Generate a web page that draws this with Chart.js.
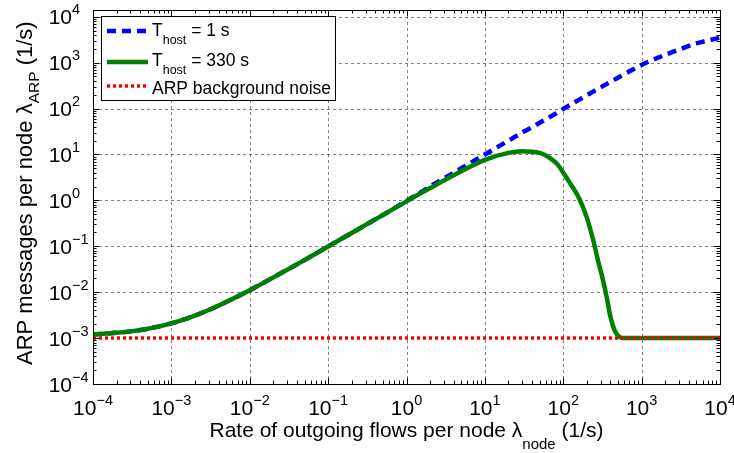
<!DOCTYPE html>
<html lang="en">
<head>
<meta charset="UTF-8" />
<title>ARP messages per node</title>
<script src="https://cdn.jsdelivr.net/npm/chart.js"></script>
<style>
  html, body { margin: 0; padding: 0; background: #fff; }
  #wrap { width: 734px; height: 453px; }
</style>
</head>
<body>
<div id="wrap"><canvas id="arp" width="734" height="453"></canvas></div>
<script>
// rate of outgoing flows per node, lambda_node (1/s)
const flowRate = [1e-4, 2e-4, 3e-4, 5e-4, 7e-4, 1e-3, 1.5e-3, 2e-3, 3e-3, 5e-3, 0.01, 0.02, 0.05, 0.1, 0.2, 0.5,
  1, 2, 5, 10, 20, 30, 40, 50, 60, 70, 85, 100, 130, 160, 200, 240, 280, 320, 360,
  400, 450, 525, 600, 1000, 2000, 3000, 5000, 10000];
// ARP messages per node, T_host = 1 s
const arpShortHost = [0.0012, 0.0013, 0.0014, 0.0016, 0.0018, 0.0021, 0.0026, 0.0031, 0.0041, 0.0061, 0.011, 0.021, 0.05, 0.099, 0.195, 0.48,
  0.97, 2, 5, 10, 20, 30, 39, 49, 58, 68, 82, 98, 127, 156, 195, 233, 271, 308, 345,
  381, 426, 493, 558, 890, 1480, 1920, 2620, 3500];
// ARP messages per node, T_host = 330 s
const arpLongHost = [0.0012, 0.0013, 0.0014, 0.0016, 0.0018, 0.0021, 0.0026, 0.0031, 0.0041, 0.0061, 0.011, 0.021, 0.05, 0.099, 0.195, 0.48,
  0.95, 1.85, 4.3, 7.6, 10.8, 11.7, 11.5, 10.8, 9.5, 8, 6, 4, 2, 1.1, 0.42, 0.14, 0.046, 0.019, 0.0075,
  0.0029, 0.0015, 0.00105, 0.001, 0.001, 0.001, 0.001, 0.001, 0.001];
// background noise
const noiseRate = [1e-4, 1e4];
const noiseLevel = [0.001, 0.001];

const xTickExp = [-4, -3, -2, -1, 0, 1, 2, 3, 4];
const yTickExp = [-4, -3, -2, -1, 0, 1, 2, 3, 4];

// [text, 0 normal | 1 subscript]
const legendLabels = [
  [["T", 0], ["host", 1], [" = 1 s", 0]],
  [["T", 0], ["host", 1], [" = 330 s", 0]],
  [["ARP background noise", 0]]
];
const xTitle = [["Rate of outgoing flows per node \u03bb", 0], ["node", 1], [" (1/s)", 0]];
const yTitle = [["ARP messages per node \u03bb", 0], ["ARP", 1], [" (1/s)", 0]];

const FONT = "'Liberation Sans', Arial, Helvetica, sans-serif";

function pts(xs, ys) {
  return xs.map((x, i) => ({ x: x, y: ys[i] }));
}

function richWidth(ctx, parts, size, small) {
  let w = 0;
  parts.forEach(([t, k]) => {
    ctx.font = (k ? small : size) + "px " + FONT;
    w += ctx.measureText(t).width;
  });
  return w;
}

function richText(ctx, parts, x, y, size, small, drop) {
  let cx = x;
  ctx.textAlign = "left";
  ctx.textBaseline = "alphabetic";
  parts.forEach(([t, k]) => {
    ctx.font = (k ? small : size) + "px " + FONT;
    ctx.fillText(t, cx, k ? y + drop : y);
    cx += ctx.measureText(t).width;
  });
}

function supText(e) {
  return e < 0 ? "\u2212" + (-e) : String(e);
}

const axisDecor = {
  id: "axisDecor",
  beforeDatasetsDraw(chart) {
    const ctx = chart.ctx, a = chart.chartArea;
    const xs = chart.scales.x, ys = chart.scales.y;
    ctx.save();
    ctx.strokeStyle = "rgba(0,0,0,0.5)";
    ctx.lineWidth = 1;
    ctx.setLineDash([3, 3]);
    xTickExp.forEach(e => {
      const px = Math.round(xs.getPixelForValue(Math.pow(10, e))) + 0.5;
      ctx.beginPath(); ctx.moveTo(px, a.top); ctx.lineTo(px, a.bottom); ctx.stroke();
    });
    yTickExp.forEach(e => {
      const py = Math.round(ys.getPixelForValue(Math.pow(10, e))) + 0.5;
      ctx.beginPath(); ctx.moveTo(a.left, py); ctx.lineTo(a.right, py); ctx.stroke();
    });
    ctx.restore();
  },
  afterDatasetsDraw(chart) {
    const ctx = chart.ctx, a = chart.chartArea;
    const xs = chart.scales.x, ys = chart.scales.y;
    ctx.save();
    // frame and inward ticks
    ctx.strokeStyle = "#000";
    ctx.lineWidth = 1;
    ctx.setLineDash([]);
    ctx.strokeRect(Math.round(a.left) + 0.5, Math.round(a.top) + 0.5,
      Math.round(a.right - a.left), Math.round(a.bottom - a.top));
    ctx.beginPath();
    xTickExp.forEach(e => {
      for (let m = 1; m <= 9; m++) {
        const v = m * Math.pow(10, e);
        if (v < xs.min || v > xs.max) continue;
        const px = Math.round(xs.getPixelForValue(v)) + 0.5;
        const len = m === 1 ? 6 : 3.5;
        ctx.moveTo(px, a.bottom); ctx.lineTo(px, a.bottom - len);
        ctx.moveTo(px, a.top); ctx.lineTo(px, a.top + len);
      }
    });
    yTickExp.forEach(e => {
      for (let m = 1; m <= 9; m++) {
        const v = m * Math.pow(10, e);
        if (v < ys.min || v > ys.max) continue;
        const py = Math.round(ys.getPixelForValue(v)) + 0.5;
        const len = m === 1 ? 6 : 3.5;
        ctx.moveTo(a.left, py); ctx.lineTo(a.left + len, py);
        ctx.moveTo(a.right, py); ctx.lineTo(a.right - len, py);
      }
    });
    ctx.stroke();

    // tick labels 10^e
    ctx.fillStyle = "#000";
    ctx.textBaseline = "alphabetic";
    xTickExp.forEach(e => {
      const px = xs.getPixelForValue(Math.pow(10, e));
      ctx.font = "21px " + FONT;
      const wb = ctx.measureText("10").width;
      ctx.font = "14.5px " + FONT;
      const ws = ctx.measureText(supText(e)).width;
      const left = px - (wb + ws) / 2;
      ctx.textAlign = "left";
      ctx.font = "21px " + FONT;
      ctx.fillText("10", left, a.bottom + 31);
      ctx.font = "14.5px " + FONT;
      ctx.fillText(supText(e), left + wb, a.bottom + 21);
    });
    yTickExp.forEach(e => {
      const py = ys.getPixelForValue(Math.pow(10, e));
      ctx.textAlign = "right";
      ctx.font = "21px " + FONT;
      ctx.fillText("10", 72, py + 7.5);
      ctx.textAlign = "left";
      ctx.font = "14.5px " + FONT;
      ctx.fillText(supText(e), 72, py - 2.5);
    });

    // axis titles
    const xw = richWidth(ctx, xTitle, 21, 15);
    richText(ctx, xTitle, (a.left + a.right) / 2 - xw / 2, 437, 21, 15, 12);
    ctx.save();
    ctx.translate(32, 365);
    ctx.rotate(-Math.PI / 2);
    richText(ctx, yTitle, 0, 0, 22, 15.5, 7);
    ctx.restore();

    // legend
    const box = { l: 101, t: 16, r: 335, b: 100 };
    const rowLine = [31, 62, 86];
    const rowBase = [36, 66, 94];
    ctx.fillStyle = "#fff";
    ctx.fillRect(box.l, box.t, box.r - box.l, box.b - box.t);
    ctx.strokeStyle = "#000";
    ctx.lineWidth = 1;
    ctx.strokeRect(box.l + 0.5, box.t + 0.5, box.r - box.l, box.b - box.t);
    chart.data.datasets.forEach((ds, i) => {
      ctx.save();
      ctx.strokeStyle = ds.borderColor;
      ctx.lineWidth = ds.borderWidth;
      ctx.setLineDash(ds.borderDash || []);
      ctx.beginPath();
      ctx.moveTo(107, rowLine[i]);
      ctx.lineTo(148, rowLine[i]);
      ctx.stroke();
      ctx.restore();
      ctx.fillStyle = "#000";
      richText(ctx, legendLabels[i], 152, rowBase[i], 17.5, 12.5, 8);
    });
    ctx.restore();
  }
};

new Chart(document.getElementById("arp"), {
  type: "line",
  data: {
    datasets: [
      {
        label: "T_host = 1 s",
        data: pts(flowRate, arpShortHost),
        borderColor: "#0000ff",
        borderWidth: 4.5,
        borderDash: [9, 6],
        order: 2
      },
      {
        label: "T_host = 330 s",
        data: pts(flowRate, arpLongHost),
        borderColor: "#008000",
        borderWidth: 4.5,
        order: 1
      },
      {
        label: "ARP background noise",
        data: pts(noiseRate, noiseLevel),
        borderColor: "#ff0000",
        borderWidth: 3.5,
        borderDash: [3, 3],
        order: 0
      }
    ]
  },
  options: {
    responsive: false,
    animation: false,
    devicePixelRatio: 1,
    layout: { padding: { top: 10, right: 14, left: 0, bottom: 0 } },
    elements: {
      point: { radius: 0, hoverRadius: 0 },
      line: { fill: false, cubicInterpolationMode: "monotone", borderCapStyle: "butt" }
    },
    plugins: { legend: { display: false }, tooltip: { enabled: false } },
    scales: {
      x: {
        type: "logarithmic", min: 1e-4, max: 1e4,
        ticks: { display: false }, grid: { display: false }, border: { display: false },
        afterFit(s) { s.height = 69; }
      },
      y: {
        type: "logarithmic", min: 1e-4, max: 1.4e4,
        ticks: { display: false }, grid: { display: false }, border: { display: false },
        afterFit(s) { s.width = 93; }
      }
    }
  },
  plugins: [axisDecor]
});
</script>
</body>
</html>
